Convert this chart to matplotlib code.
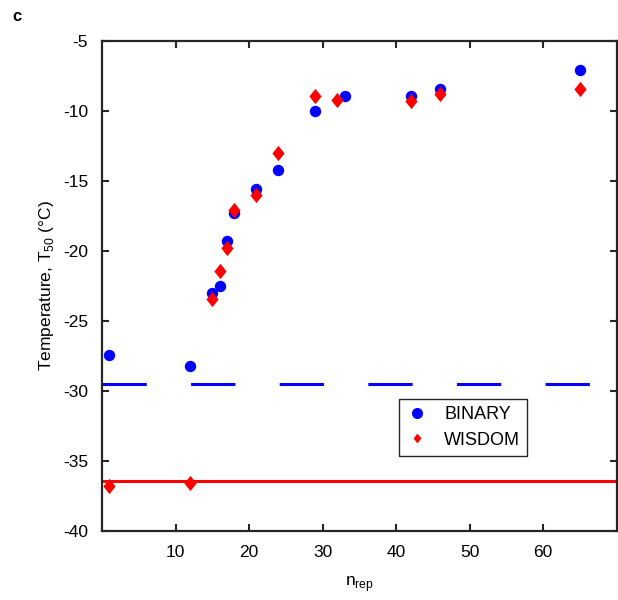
import matplotlib.pyplot as plt
from matplotlib.lines import Line2D

plt.rcParams['font.family'] = ['Liberation Sans', 'DejaVu Sans']
plt.rcParams['axes.unicode_minus'] = False

# data
binary_n = [1, 12, 15, 16, 17, 18, 21, 24, 29, 33, 42, 46, 65]
binary_t = [-27.4, -28.2, -23.0, -22.5, -19.3, -17.3, -15.6, -14.2, -10.0, -8.9, -8.9, -8.4, -7.1]
wisdom_n = [1, 12, 15, 16, 17, 18, 21, 24, 29, 32, 42, 46, 65]
wisdom_t = [-36.8, -36.6, -23.4, -21.4, -19.8, -17.1, -16.0, -13.0, -8.9, -9.2, -9.3, -8.8, -8.4]
binary_ref = -29.5
wisdom_ref = -36.4
xticks = [10, 20, 30, 40, 50, 60]
yticks = [-40, -35, -30, -25, -20, -15, -10, -5]

# matlab style diamond, a little taller than wide
diamond = [(0, 1), (0.8, 0), (0, -1), (-0.8, 0), (0, 1)]

fig = plt.figure(figsize=(6.18, 6.0), dpi=100)
ax = fig.add_axes([0.165, 0.115, 0.833, 0.8167])

lw = 2.2
ax.axhline(binary_ref, color='#0000ff', lw=lw, ls=(0, (14.5, 14.5)), zorder=1)
ax.axhline(wisdom_ref, color='#ff0000', lw=lw, zorder=1)

ax.plot(binary_n, binary_t, 'o', color='#0000ff', ms=8.2, mec='none', zorder=3)
ax.plot(wisdom_n, wisdom_t, ls='none', marker=diamond, color='#ff0000', ms=11, mec='none', zorder=4)

ax.set_xlim(0, 70)
ax.set_ylim(-40, -5)
ax.set_xticks(xticks)
ax.set_yticks(yticks)
ax.tick_params(direction='in', top=True, right=True, length=5, width=1.5,
               labelsize=12.5, color='#262626', pad=10)
for s in ax.spines.values():
    s.set_linewidth(1.6)
    s.set_color('#262626')

ax.set_xlabel(r'n$_{\mathregular{rep}}$', fontsize=12.5, labelpad=10)
ax.set_ylabel(r'Temperature, T$_{\mathregular{50}}$ (°C)', fontsize=12.5, labelpad=5)

handles = [Line2D([], [], ls='none', marker='o', color='#0000ff', ms=8, mec='none'),
           Line2D([], [], ls='none', marker=diamond, color='#ff0000', ms=7, mec='none')]
leg = ax.legend(handles, ['BINARY', 'WISDOM'], loc='upper left',
                bbox_to_anchor=(0.577, 0.269), borderaxespad=0, fontsize=13,
                fancybox=False, framealpha=1, edgecolor='#262626', borderpad=0.4,
                handlelength=1.2, handletextpad=0.9, labelspacing=0.45)
leg.get_frame().set_linewidth(1.0)

fig.text(0.02, 0.972, 'c', fontsize=12, fontweight='bold', ha='left', va='center')

fig.savefig('out.png', dpi=100)
